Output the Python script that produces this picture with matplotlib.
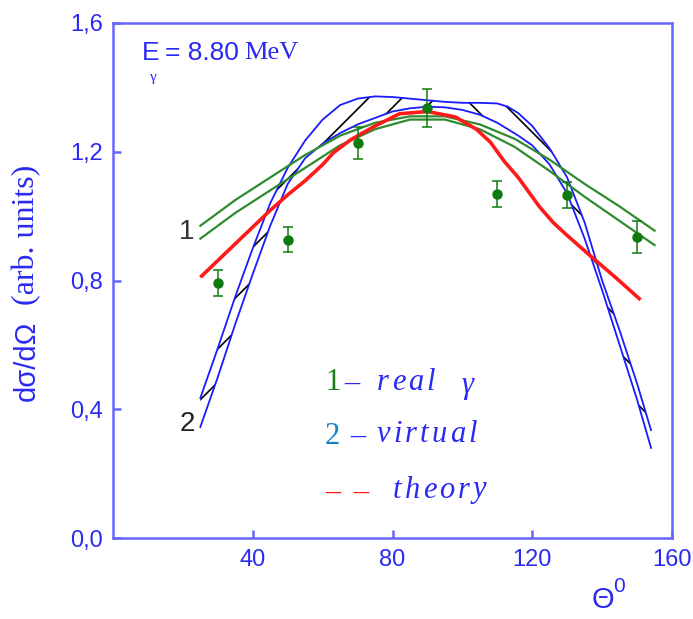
import matplotlib
matplotlib.use('Agg')
import matplotlib.pyplot as plt
import numpy as np

# data
theta_pts = [30, 50, 70, 90, 110, 130, 150]
sigma_pts = [0.792, 0.926, 1.227, 1.336, 1.069, 1.066, 0.935]
sigma_err = [0.040, 0.039, 0.050, 0.060, 0.040, 0.040, 0.050]

theta_real = [25, 35, 45, 55, 65, 75, 85, 95, 105, 115, 125, 135, 145, 155]
real_hi = [0.97, 1.05, 1.12, 1.19, 1.25, 1.29, 1.31, 1.31, 1.285, 1.24, 1.175, 1.10, 1.03, 0.955]
real_lo = [0.93, 1.01, 1.08, 1.15, 1.22, 1.27, 1.30, 1.30, 1.27, 1.215, 1.14, 1.06, 0.985, 0.91]

theta_virt = [25, 30, 35, 40, 45, 50, 55, 60, 65, 70, 75, 80, 85, 90, 95, 100,
              105, 110, 113, 116, 120, 125, 130, 135, 140, 145, 150, 154]
virt_out = [0.435, 0.59, 0.75, 0.90, 1.04, 1.15, 1.235, 1.30, 1.345, 1.365, 1.372, 1.37,
            1.365, 1.36, 1.355, 1.352, 1.352, 1.35, 1.34, 1.32, 1.28, 1.21, 1.12, 0.98,
            0.80, 0.645, 0.48, 0.335]
virt_in = [0.345, 0.50, 0.665, 0.82, 0.97, 1.10, 1.18, 1.225, 1.258, 1.285, 1.305, 1.325,
           1.335, 1.34, 1.338, 1.33, 1.315, 1.29, 1.27, 1.25, 1.22, 1.16, 1.07, 0.93,
           0.77, 0.60, 0.43, 0.28]

theta_th = [25, 30, 35, 40, 45, 50, 55, 60, 63, 68, 75, 82, 90, 98, 104, 108, 112,
            116, 122, 126, 130, 137, 144, 151]
sigma_th = [0.81, 0.862, 0.914, 0.966, 1.018, 1.066, 1.11, 1.16, 1.196, 1.237, 1.28,
            1.318, 1.325, 1.308, 1.27, 1.23, 1.17, 1.12, 1.03, 0.98, 0.94, 0.873, 0.808, 0.74]

xticks = [40, 80, 120, 160]
yticks = [0.0, 0.4, 0.8, 1.2, 1.6]
ytick_labels = ['0,0', '0,4', '0,8', '1,2', '1,6']

W, H = 693, 619
spine_col = '#6666ff'
text_col = '#2a2af0'
green = '#2e8b2e'
blue = '#1a1aff'

plt.rcParams['hatch.linewidth'] = 1.2

fig = plt.figure(figsize=(W / 100, H / 100), dpi=100)
ax = fig.add_axes([113 / W, 1 - 538 / H, 559 / W, 515 / H])


def fx(px):
    return px / W


def fy(py):
    return 1 - py / H


# hatched band between the two "virtual" curves
tv = np.array(theta_virt)
vo = np.array(virt_out)
vi = np.array(virt_in)
left = tv <= 95
right = tv >= 95
ax.fill_between(tv[left], vi[left], vo[left], facecolor='none', edgecolor='black',
                linewidth=0, hatch='/')
ax.fill_between(tv[right], vi[right], vo[right], facecolor='none', edgecolor='black',
                linewidth=0, hatch='\\')
ax.plot(theta_virt, virt_out, color=blue, lw=1.3)
ax.plot(theta_virt, virt_in, color=blue, lw=1.3)

ax.plot(theta_real, real_hi, color=green, lw=1.6)
ax.plot(theta_real, real_lo, color=green, lw=1.6)

ax.plot(theta_th, sigma_th, color='#ff1a1a', lw=2.6, solid_capstyle='butt')

ax.errorbar(theta_pts, sigma_pts, yerr=sigma_err, fmt='o', color='#0f7a0f', ms=6.5,
            elinewidth=1.1, capsize=3.6, capthick=1.1, zorder=5)

ax.set_xlim(0, 160)
ax.set_ylim(0, 1.6)
ax.set_xticks(xticks)
ax.set_yticks(yticks)
ax.set_yticklabels(ytick_labels)
for s in ax.spines.values():
    s.set_color(spine_col)
    s.set_linewidth(1.8)
ax.tick_params(direction='in', length=6, width=1.8, color=spine_col,
               labelcolor=text_col, labelsize=17)
ax.tick_params(axis='x', pad=8)
ax.tick_params(axis='y', pad=7)
for lab in ax.get_xticklabels() + ax.get_yticklabels():
    lab.set_family('Liberation Sans')

# axis titles
fig.text(fx(27), fy(361), 'dσ/dΩ', rotation=90, ha='center', va='center',
         color=text_col, fontsize=21, family='Liberation Sans')
fig.text(fx(27), fy(235), '(arb. units)', rotation=90, ha='center', va='center',
         color=text_col, fontsize=23, family='Liberation Serif')
fig.text(fx(592), fy(600), 'Θ', ha='left', va='center', color=text_col,
         fontsize=21, family='Liberation Sans')
fig.text(fx(613), fy(587), '0', ha='left', va='center', color=text_col,
         fontsize=15, family='Liberation Sans')

# energy label
fig.text(fx(142), fy(53), 'E', ha='left', va='center', color=text_col,
         fontsize=19, family='Liberation Sans')
fig.text(fx(150), fy(77), 'γ', ha='left', va='center', color=text_col,
         fontsize=11, family='Liberation Serif')
fig.text(fx(165), fy(53), '= 8.80', ha='left', va='center', color=text_col,
         fontsize=19, family='Liberation Sans')
fig.text(fx(244), fy(53), 'MeV', ha='left', va='center', color=text_col,
         fontsize=19, family='Liberation Serif')

# curve numbers
fig.text(fx(187), fy(232), '1', ha='center', va='center', color='#333333',
         fontsize=20, family='Liberation Sans')
fig.text(fx(187), fy(424), '2', ha='center', va='center', color='#222222',
         fontsize=20, family='Liberation Sans')

renderer = fig.canvas.get_renderer()


def spaced(x, y, s, gap, **kw):
    # letter-spaced italic words like in the original legend
    for ch in s:
        if ch == ' ':
            x += 8
            continue
        t = fig.text(fx(x), fy(y), ch, ha='left', va='center', **kw)
        bb = t.get_window_extent(renderer=renderer)
        x = bb.x1 + gap
    return x


leg_kw = dict(color=text_col, fontsize=22, family='Liberation Serif', style='italic')
fig.text(fx(325), fy(383), '1', ha='left', va='center', color='#1e7d1e',
         fontsize=22, family='Liberation Serif')
fig.text(fx(344), fy(383), '–', ha='left', va='center', color=text_col,
         fontsize=22, family='Liberation Serif')
spaced(377, 382, 'real', 3, **leg_kw)
fig.text(fx(461), fy(386), 'γ', ha='left', va='center', **leg_kw)

fig.text(fx(325), fy(436), '2', ha='left', va='center', color='#1a80c4',
         fontsize=22, family='Liberation Serif')
fig.text(fx(350), fy(436), '–', ha='left', va='center', color=text_col,
         fontsize=22, family='Liberation Serif')
spaced(377, 435, 'virtual', 3, **leg_kw)

fig.text(fx(325), fy(492), '–', ha='left', va='center', color='#ff1a1a',
         fontsize=22, family='Liberation Serif')
fig.text(fx(353), fy(492), '–', ha='left', va='center', color='#ff1a1a',
         fontsize=22, family='Liberation Serif')
spaced(393, 490, 'theory', 3, **leg_kw)

fig.savefig('out.png', dpi=100)
